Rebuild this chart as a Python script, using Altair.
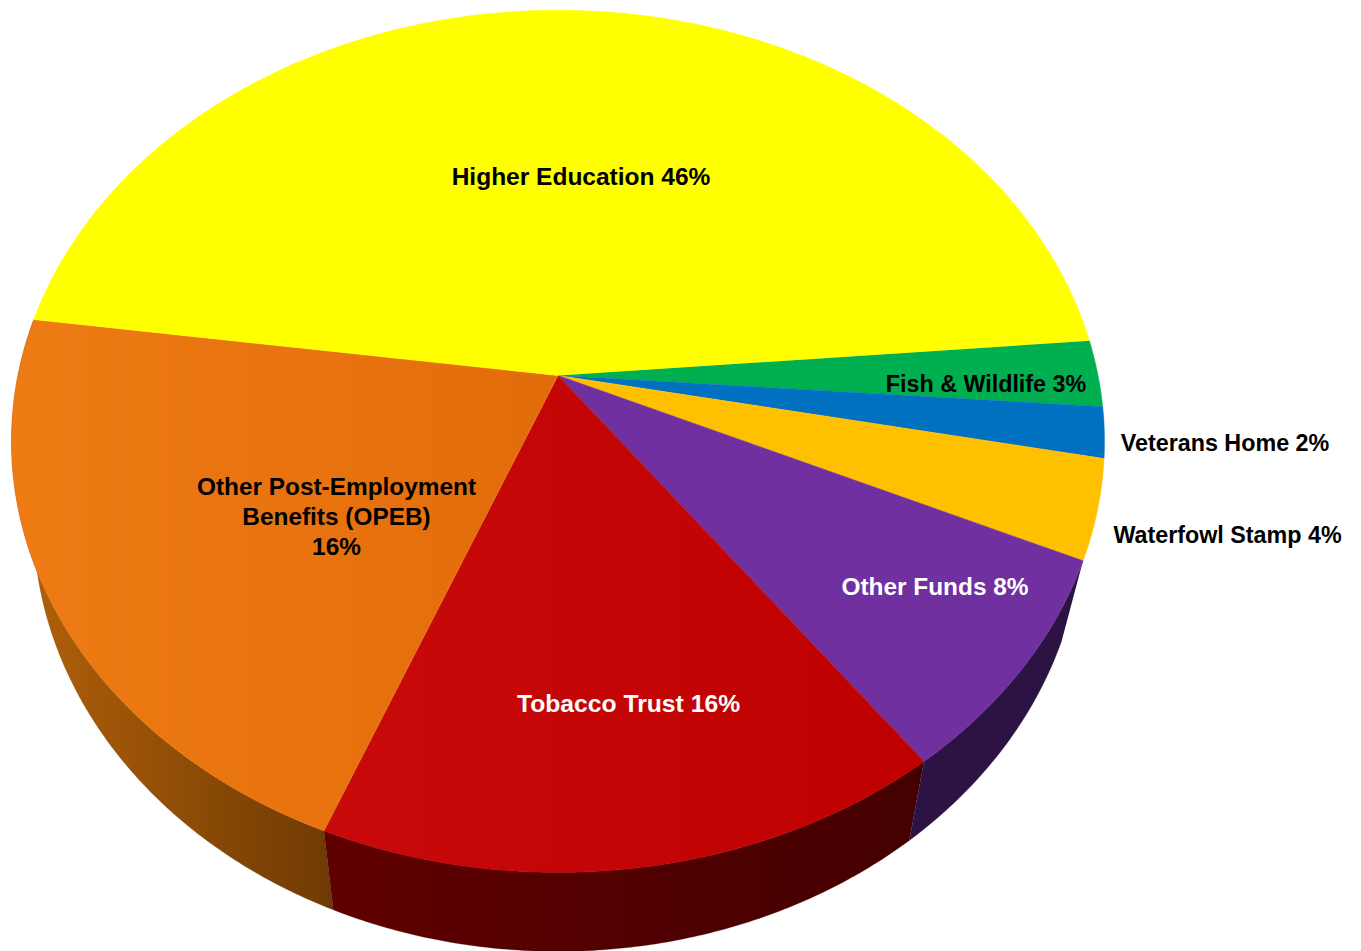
import math
import altair as alt
import pandas as pd

# Slice data, clockwise from the yellow/green boundary (share of the drawn circle, %)
names = ["Fish & Wildlife", "Veterans Home", "Waterfowl Stamp", "Other Funds",
         "Tobacco Trust", "Other Post-Employment Benefits (OPEB)", "Higher Education"]
shares = [2.5, 1.9, 3.7, 8.1, 16.2, 21.1, 46.5]
colors = ["#00B050", "#0070C0", "#FFC000", "#7030A0", "#C00000", "#E8730F", "#FFFF00"]

label_lines = ["Higher Education 46%", "Other Post-Employment", "Benefits (OPEB)", "16%",
               "Tobacco Trust 16%", "Other Funds 8%", "Fish & Wildlife 3%",
               "Veterans Home 2%", "Waterfowl Stamp 4%"]
label_colors = ["black", "black", "black", "black", "white", "white", "black", "black", "black"]

# Layout of the perspective view (picture pixels)
HUB_X, HUB_Y = 558, 375.5
AX, BY, TILT = 540, 421, 0.1527
START_DEG = -4.8
DEPTH, SHRINK = 79, 0.96
LABEL_X = [581, 336.5, 336.5, 336.5, 628.5, 935, 986, 1225, 1227.5]
LABEL_Y = [178, 488, 518, 548, 705, 588, 385, 444, 536]
LABEL_SIZE = [24.5, 24.4, 24.4, 24.4, 24.7, 24.4, 23.3, 23.3, 23.3]


def linear(c0, c1, x2=1, y2=0):
    return {"gradient": "linear", "x1": 0, "y1": 1 if y2 == 0 and x2 == -1 else 0, "x2": x2, "y2": y2,
            "stops": [{"offset": 0, "color": c0}, {"offset": 1, "color": c1}]}


WALLS = {
    "Other Post-Employment Benefits (OPEB)": linear("#B5620A", "#6E3A04"),
    "Tobacco Trust": linear("#600000", "#440000"),
    "Other Funds": "#2D1344",
}
TOP_GRADIENTS = {
    "Tobacco Trust": linear("#C90A0A", "#BE0000"),
    "Other Post-Employment Benefits (OPEB)": linear("#EE7B14", "#E36C0A"),
}


def rim(deg):
    phi = math.radians(deg)
    u, v = math.cos(phi), math.sin(phi)
    w = 1 - TILT * v
    return HUB_X + AX * u / w, HUB_Y + BY * v / w


def arc_degrees(a, b):
    n = max(2, int((b - a) * 2))
    return [a + (b - a) * i / n for i in range(n + 1)]


top_rows, wall_rows = [], []
start = START_DEG
for name, share in zip(names, shares):
    end = start + share * 3.6
    degs = arc_degrees(start, end)
    pts = [rim(d) for d in degs]
    poly = [(HUB_X, HUB_Y)] + pts
    for i, (x, y) in enumerate(poly):
        top_rows.append({"slice": name, "o": i, "x": x, "y": y})
    lower = [(HUB_X + (x - HUB_X) * SHRINK, y + DEPTH) for x, y in pts]
    for i, (x, y) in enumerate(pts + lower[::-1]):
        wall_rows.append({"slice": name, "o": i, "x": x, "y": y})
    start = end

top_df = pd.DataFrame(top_rows)
wall_df = pd.DataFrame(wall_rows)
labels_df = pd.DataFrame({"t": label_lines, "c": label_colors, "x": LABEL_X, "y": LABEL_Y, "s": LABEL_SIZE})

x_enc = alt.X("x:Q", scale=alt.Scale(domain=[8, 1353]), axis=None)
y_enc = alt.Y("y:Q", scale=alt.Scale(domain=[8, 951], reverse=True), axis=None)


def polygon(df, name, fill, stroke, width=0.6):
    return (
        alt.Chart(df[df["slice"] == name])
        .mark_line(fill=fill, stroke=stroke, strokeWidth=width, clip=True)
        .encode(x=x_enc, y=y_enc, order="o:Q")
    )


layers = []
for name, fill in WALLS.items():
    stroke = fill if isinstance(fill, str) else fill["stops"][1]["color"]
    layers.append(polygon(wall_df, name, fill, fill if isinstance(fill, str) else stroke, 0.3))
for name, color in zip(names, colors):
    layers.append(polygon(top_df, name, TOP_GRADIENTS.get(name, color), color))

text = (
    alt.Chart(labels_df)
    .mark_text(font="Liberation Sans", fontWeight="bold", align="center", baseline="middle")
    .encode(x=x_enc, y=y_enc, text="t:N", color=alt.Color("c:N", scale=None),
            size=alt.Size("s:Q", scale=None, legend=None))
)

chart = (
    alt.layer(*layers, text)
    .properties(width=1345, height=943, padding=0, background="white")
    .configure_view(stroke=None)
)
chart.save("out.html", embed_options={"renderer": "svg", "actions": False})
